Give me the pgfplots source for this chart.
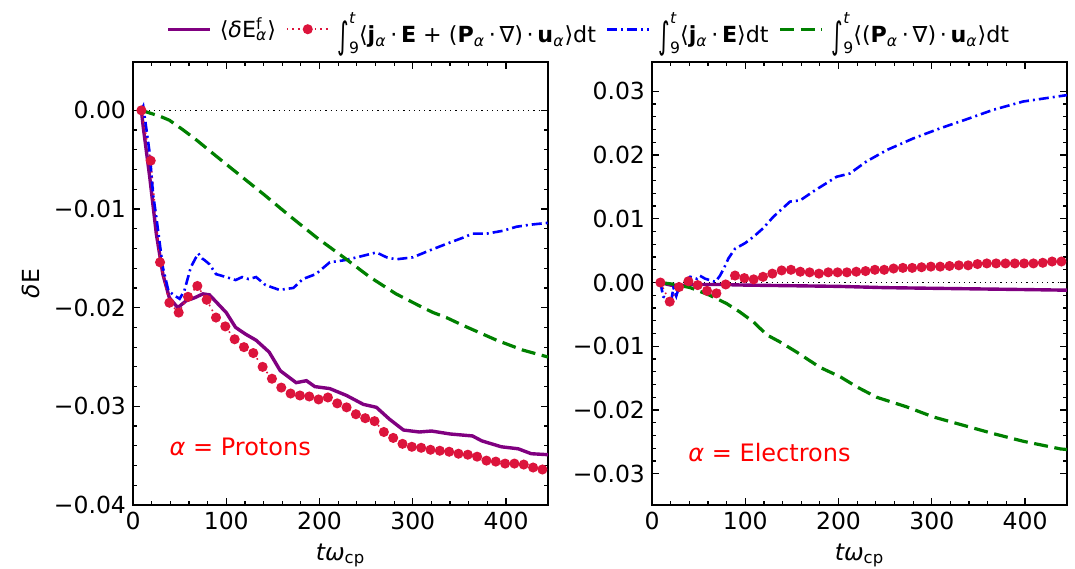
\documentclass[border=0pt]{standalone}
\usepackage{fontspec}
\setmainfont{DejaVu Sans}
\usepackage{pgfplots}
\pgfplotsset{compat=1.18}

\definecolor{mpurple}{HTML}{800080}
\definecolor{crimson}{HTML}{DC143C}
\definecolor{mgreen}{HTML}{008000}

% integral with limits 9..t, set in text
\newcommand{\intl}{\raisebox{-0.45ex}{\scalebox{1}[1.65]{∫}}\rlap{\raisebox{1.6ex}{\fontsize{7.8}{9}\selectfont\textit{t}}}\raisebox{-0.85ex}{\fontsize{7.8}{9}\selectfont 9}}
\newcommand{\sa}{\textsubscript{\textit{α}}}

\pgfplotsset{
  panel/.style={
    scale only axis,
    width=207.5pt, height=221.5pt,
    xmin=0, xmax=445,
    xtick={0,100,200,300,400},
    xticklabels={0,100,200,300,400},
    scaled y ticks=false,
    minor x tick num=4,
    minor y tick num=4,
    tick align=inside,
    major tick length=3.5pt,
    minor tick length=2pt,
    axis line style={line width=0.8pt},
    every tick/.style={black, line width=0.6pt},
    tick label style={font=\fontsize{11.75}{14}\selectfont},
    label style={font=\fontsize{11.75}{14}\selectfont},
    xlabel={\textit{tω}\textsubscript{cp}},
    legend image code/.code={\draw[mark repeat=2,mark phase=2] plot coordinates {(0pt,0pt) (10.5pt,0pt) (21pt,0pt)};},
  },
  fE/.style={mpurple, line width=1.7pt},
  tot/.style={crimson, dotted, line width=0.8pt, mark=*, mark size=2.1pt, mark options={solid}},
  jE/.style={blue, line width=1.3pt, dash pattern=on 5pt off 2pt on 1pt off 2pt},
  Pu/.style={mgreen, line width=1.6pt, dash pattern=on 7pt off 3.3pt},
  zero/.style={black, dotted, line width=0.6pt, forget plot},
}

\pgfplotstableread{
t dE
9 0
11 -0.0017
18 -0.0068
25 -0.0125
32 -0.0166
39 -0.0190
48 -0.0200
57 -0.0193
66 -0.0190
75 -0.0186
82 -0.0187
90 -0.0195
100 -0.0205
110 -0.0220
121 -0.0227
132 -0.0233
146 -0.0245
158 -0.0264
175 -0.0276
186 -0.0274
195 -0.0280
211 -0.0282
229 -0.0289
247 -0.0298
261 -0.0301
275 -0.0313
290 -0.0324
307 -0.0326
320 -0.0325
340 -0.0328
364 -0.0330
374 -0.0335
395 -0.0341
413 -0.0343
427 -0.0348
445 -0.0349
}\pfE

\pgfplotstableread{
t dE
9 0
19 -0.0051
29 -0.0154
39 -0.0195
49 -0.0205
59 -0.0189
69 -0.0178
79 -0.0192
89 -0.0210
99 -0.0219
109 -0.0232
119 -0.0240
129 -0.0246
139 -0.0260
149 -0.0272
159 -0.0281
169 -0.0287
179 -0.0289
189 -0.0290
199 -0.0293
209 -0.0291
219 -0.0297
229 -0.0301
239 -0.0308
249 -0.0312
259 -0.0315
269 -0.0326
279 -0.0332
289 -0.0338
299 -0.0341
309 -0.0342
319 -0.0344
329 -0.0345
339 -0.0346
349 -0.0348
359 -0.0349
369 -0.0351
379 -0.0355
389 -0.0356
399 -0.0358
409 -0.0358
419 -0.0359
429 -0.0362
439 -0.0364
}\ptot

\pgfplotstableread{
t dE
9 0
11 0.0004
14.5 -0.0020
18 -0.0044
21.5 -0.0085
25 -0.0108
32 -0.0159
38 -0.0183
45 -0.0188
50 -0.0191
55 -0.0183
62 -0.0159
67 -0.0150
70 -0.0145
74 -0.0150
77 -0.0152
82 -0.0156
89 -0.0166
100 -0.0169
110 -0.0172
117 -0.0169
124 -0.0171
132 -0.0169
142 -0.0177
157 -0.0182
172 -0.0180
182 -0.0171
196 -0.0166
211 -0.0154
226 -0.0152
240 -0.0149
261 -0.0144
272 -0.0149
282 -0.0151
300 -0.0149
318 -0.0142
337 -0.0135
354 -0.0129
364 -0.0125
379 -0.0125
397 -0.0122
411 -0.0118
425 -0.0116
445 -0.0114
}\pjE

\pgfplotstableread{
t dE
9 0
29 -0.0006
39 -0.0010
54 -0.0020
68 -0.0030
90 -0.0047
111 -0.0063
140 -0.0085
168 -0.0107
197 -0.0129
226 -0.0149
254 -0.0169
282 -0.0186
311 -0.0200
322 -0.0205
336 -0.0210
354 -0.0218
390 -0.0233
418 -0.0243
445 -0.0250
}\pPu

\pgfplotstableread{
t dE
9 0
20 -0.0004
30 -0.0005
45 -0.0003
70 -0.0003
100 -0.0004
150 -0.0005
200 -0.0006
250 -0.0008
300 -0.0009
350 -0.0010
400 -0.0011
445 -0.0012
}\efE

\pgfplotstableread{
t dE
9 0
19 -0.0030
29 -0.0007
39 0.0002
49 -0.0004
59 -0.0013
69 -0.0017
79 -0.0003
89 0.0011
99 0.0007
109 0.0005
119 0.0009
129 0.0014
139 0.0019
149 0.0020
159 0.0017
169 0.0016
179 0.0014
189 0.0016
199 0.0016
209 0.0016
219 0.0017
229 0.0018
239 0.0020
249 0.0020
259 0.0022
269 0.0023
279 0.0023
289 0.0024
299 0.0025
309 0.0025
319 0.0026
329 0.0027
339 0.0027
349 0.0029
359 0.0030
369 0.0030
379 0.0030
389 0.0030
399 0.0030
409 0.0030
419 0.0031
429 0.0033
439 0.0033
}\etot

\pgfplotstableread{
t dE
9 0
12 -0.0022
16 -0.0025
21 -0.0025
23 -0.0008
26 -0.0021
30 -0.0002
35 0.0000
41 0.0009
48 0.0006
51 0.0011
57 0.0006
64 0.0003
68 0.0001
73 0.0011
77 0.0022
82 0.0038
89 0.0053
100 0.0062
109 0.0072
119 0.0085
130 0.0103
148 0.0127
159 0.0129
173 0.0143
198 0.0166
212 0.0171
230 0.0190
252 0.0208
280 0.0226
309 0.0242
337 0.0256
366 0.0271
398 0.0284
440 0.0293
445 0.0294
}\ejE

\pgfplotstableread{
t dE
9 0
25 -0.0003
41 -0.0008
62 -0.0020
80 -0.0033
94 -0.0046
109 -0.0062
123 -0.0082
137 -0.0093
155 -0.0109
180 -0.0133
202 -0.0148
220 -0.0164
241 -0.0180
273 -0.0195
302 -0.0211
334 -0.0224
366 -0.0237
398 -0.0249
438 -0.0261
445 -0.0262
}\ePu

\begin{document}
\begin{tikzpicture}
\begin{axis}[panel,
    at={(66.5pt,-252.5pt)}, anchor=south west,
    ymin=-0.04, ymax=0.0049,
    ytick={-0.04,-0.03,-0.02,-0.01,0},
    yticklabels={−0.04,−0.03,−0.02,−0.01,0.00},
    ylabel={\textit{δ}E},
    legend columns=4,
    legend style={draw=none, fill=none, at={(0.065,1.074)}, anchor=west,
      font=\fontsize{11.1}{13}\selectfont,
      /tikz/every even column/.append style={column sep=3pt},
      /tikz/every odd column/.append style={column sep=2pt}},
  ]
\addplot[zero] coordinates {(0,0) (445,0)};
\addplot[fE] table[x=t,y=dE] {\pfE};
\addlegendentry{⟨\textit{δ}E\rlap{\textsuperscript{f}}\sa⟩}
\addplot[tot] table[x=t,y=dE] {\ptot};
\addlegendentry{\intl⟨\textbf{j}\sa\,·\,\textbf{E} + (\textbf{P}\sa\,·\,∇)\,·\,\textbf{u}\sa⟩dt}
\addplot[jE] table[x=t,y=dE] {\pjE};
\addlegendentry{\intl⟨\textbf{j}\sa\,·\,\textbf{E}⟩dt}
\addplot[Pu] table[x=t,y=dE] {\pPu};
\addlegendentry{\intl⟨(\textbf{P}\sa\,·\,∇)\,·\,\textbf{u}\sa⟩dt}
\node[text=red, font=\fontsize{12}{14}\selectfont] at (axis cs:115,-0.0341) {\textit{α} = Protons};
\end{axis}

\begin{axis}[panel,
    at={(326pt,-252.5pt)}, anchor=south west,
    ymin=-0.0349, ymax=0.0346,
    ytick={-0.03,-0.02,-0.01,0,0.01,0.02,0.03},
    yticklabels={−0.03,−0.02,−0.01,0.00,0.01,0.02,0.03},
  ]
\addplot[zero] coordinates {(0,0) (445,0)};
\addplot[fE] table[x=t,y=dE] {\efE};
\addplot[tot] table[x=t,y=dE] {\etot};
\addplot[jE] table[x=t,y=dE] {\ejE};
\addplot[Pu] table[x=t,y=dE] {\ePu};
\node[text=red, font=\fontsize{12}{14}\selectfont] at (axis cs:126,-0.0266) {\textit{α} = Electrons};
\end{axis}
\pgfresetboundingbox
\path[use as bounding box] (0pt,0pt) rectangle (537.5pt,-284pt);
\end{tikzpicture}
\end{document}
